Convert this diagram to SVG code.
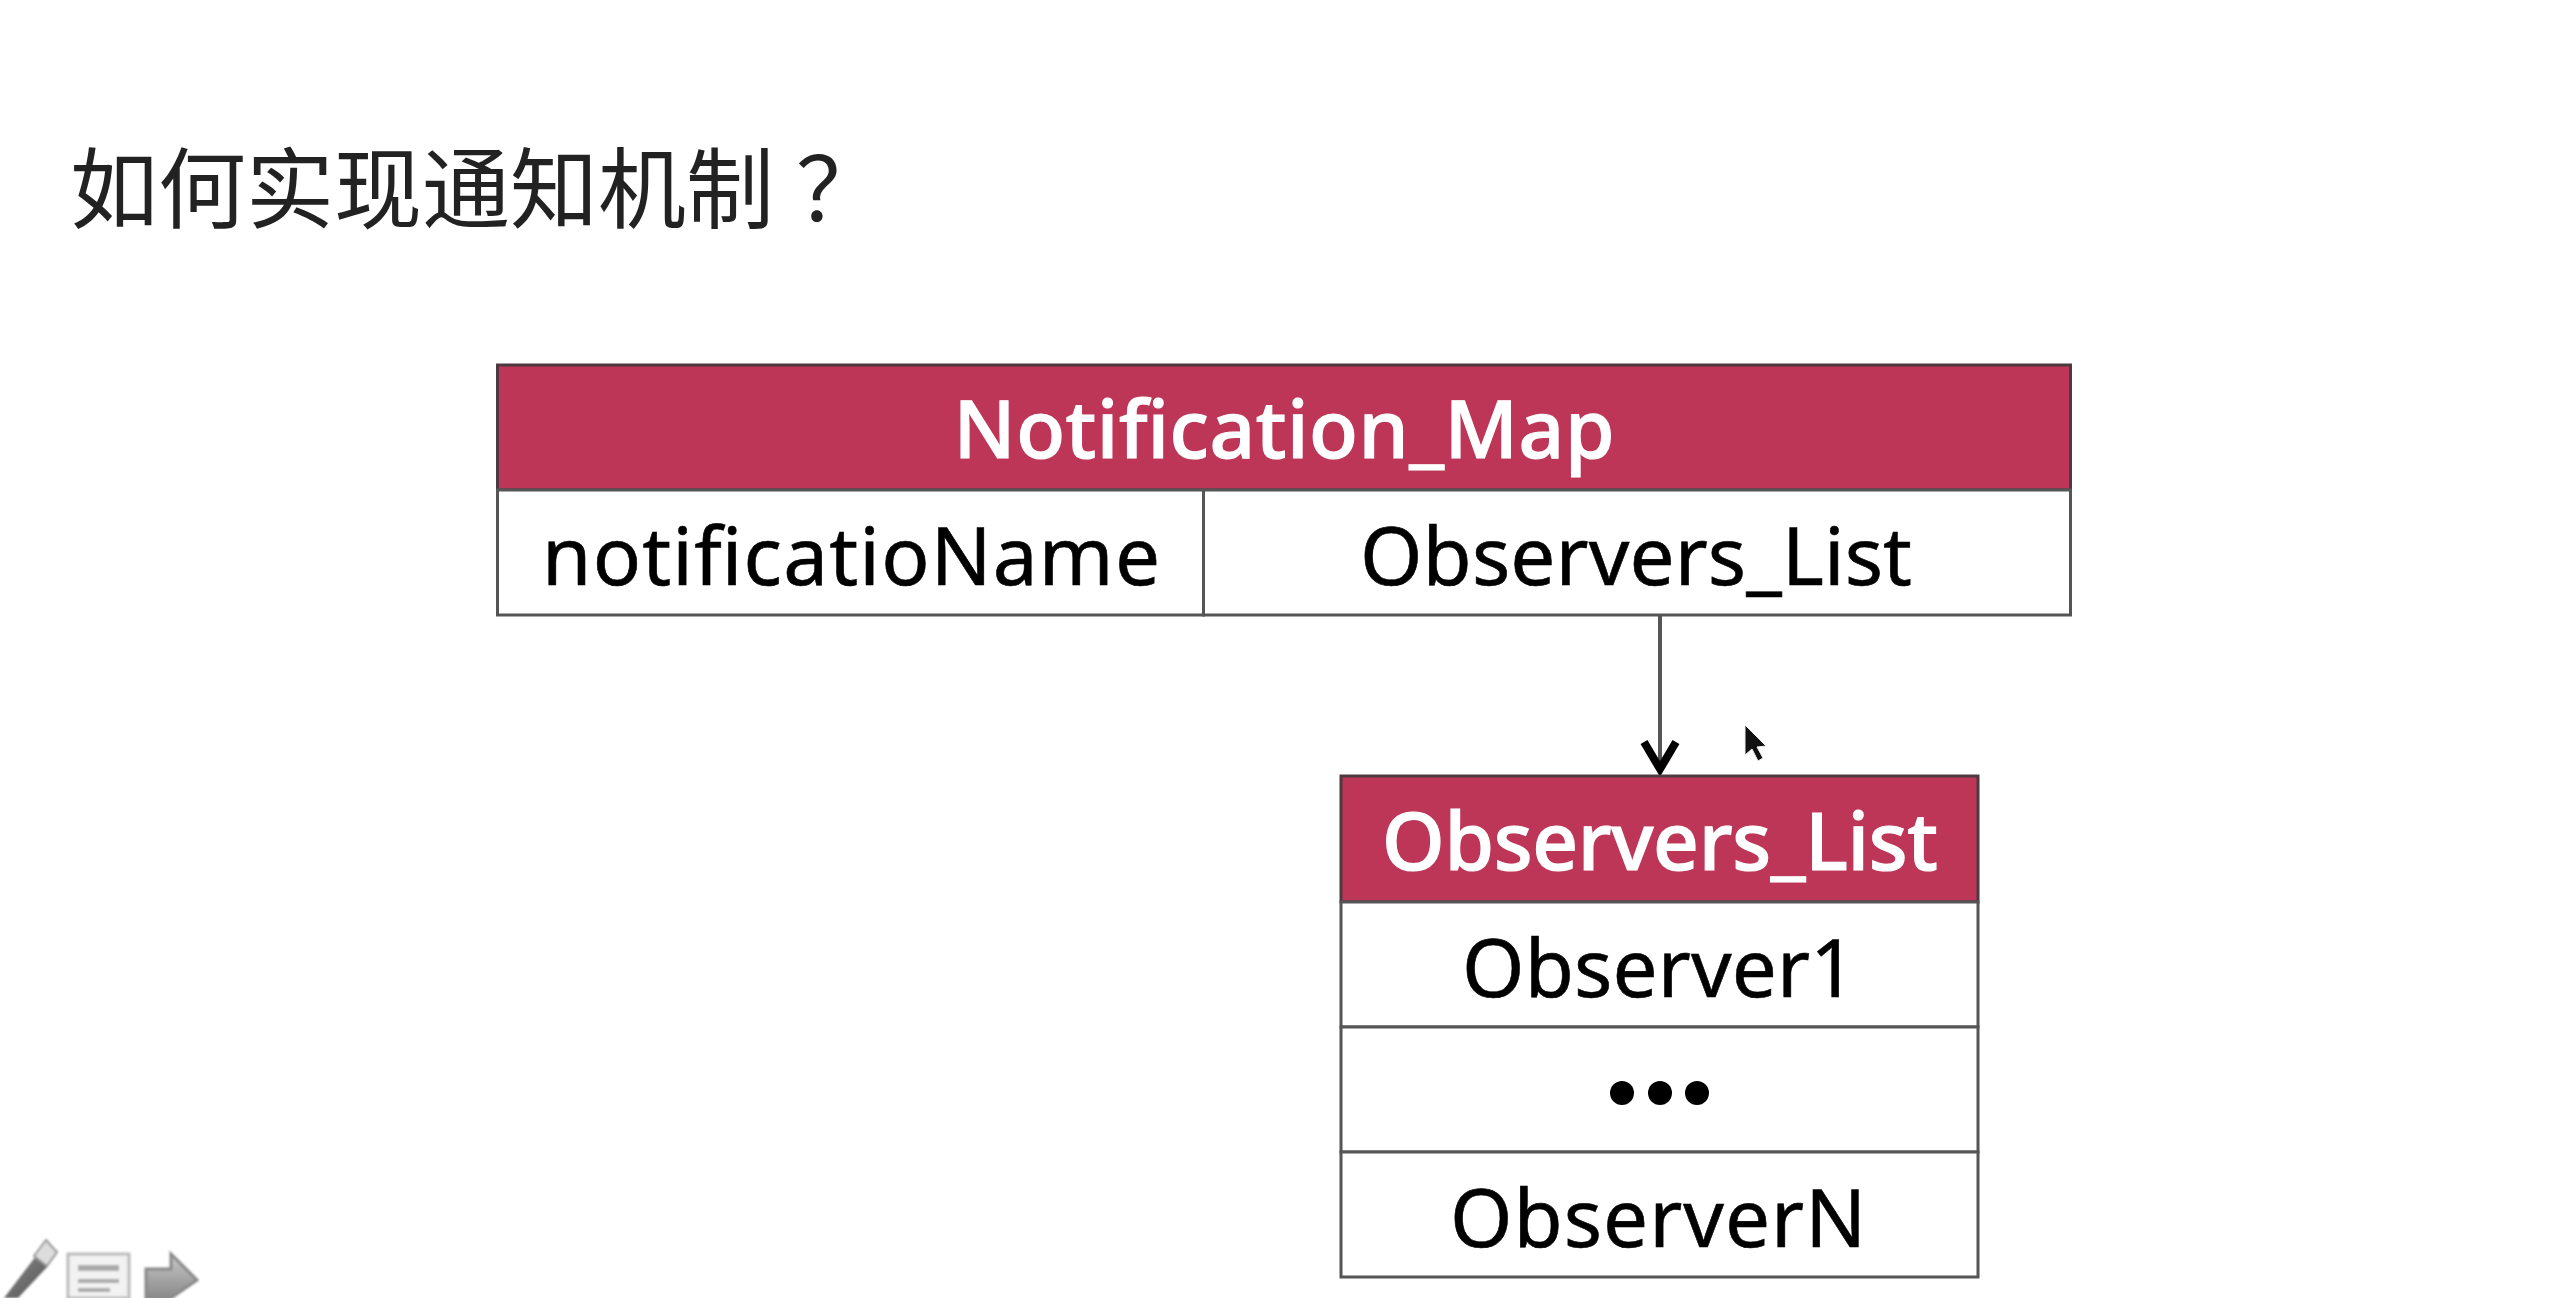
<svg xmlns="http://www.w3.org/2000/svg" width="2570" height="1298" viewBox="0 0 2570 1298">
<style>
.cell{fill:#fff;stroke:#555;stroke-width:3}
.head{fill:#bd3657;stroke:#4d3a40;stroke-width:3}
.t{font-family:"Noto Sans","Open Sans","Liberation Sans",sans-serif;font-size:80px;fill:#000;text-anchor:middle;stroke:#000;stroke-width:.6}
.h{fill:#fff;stroke:#fff;stroke-width:1.2;font-weight:500}
.conn{stroke:#555;stroke-width:4;fill:none}
</style>
<defs>
<linearGradient id="g" x1="0" y1="0" x2="0" y2="1"><stop offset="0" stop-color="#c8c8c8"/><stop offset="1" stop-color="#8a8a8a"/></linearGradient>
<linearGradient id="p" x1="0" y1="0" x2="1" y2="1"><stop offset="0" stop-color="#888"/><stop offset="1" stop-color="#555"/></linearGradient>
<filter id="b" x="-10%" y="-10%" width="120%" height="120%"><feGaussianBlur stdDeviation="0.9"/></filter>
<filter id="s" x="-5%" y="-20%" width="110%" height="140%"><feGaussianBlur stdDeviation="0.6"/></filter>
</defs>
<rect width="2570" height="1298" fill="#fff"/>
<text id="title" x="70" y="221" font-family="'Noto Sans CJK SC','Noto Sans',sans-serif" font-size="88" fill="#222" filter="url(#s)">如何实现通知机制<tspan dx="22">？</tspan></text>
<g id="notification_map">
<rect class="head" x="497.500" y="365" width="1573" height="125"/>
<rect class="cell" x="497.500" y="490" width="706" height="125"/>
<rect class="cell" x="1203.500" y="490" width="867" height="125"/>
<g filter="url(#s)">
<text class="t h" x="1284" y="458" textLength="661">Notification_Map</text>
<text class="t" x="851" y="585" textLength="618">notificatioName</text>
<text class="t" x="1636" y="585" textLength="552">Observers_List</text>
</g>
</g>
<g id="connectors">
<line class="conn" x1="1660" y1="615" x2="1660" y2="770"/>
<path d="M1644 742 L1660 769 L1676 742" fill="none" stroke="#000" stroke-width="8"/>
</g>
<g id="observers_list">
<rect class="head" x="1341" y="776" width="637" height="126"/>
<rect class="cell" x="1341" y="902" width="637" height="125"/>
<rect class="cell" x="1341" y="1027" width="637" height="125"/>
<rect class="cell" x="1341" y="1152" width="637" height="125"/>
<g filter="url(#s)">
<text class="t h" x="1660" y="870" textLength="556">Observers_List</text>
<text class="t" x="1659" y="997" textLength="394">Observer1</text>
<text class="t" x="1658" y="1247" textLength="416">ObserverN</text>
</g>
<g><circle cx="1622" cy="1093" r="12"/><circle cx="1660" cy="1093" r="12"/><circle cx="1697" cy="1093" r="12"/></g>
</g>
<path id="cursor" d="M1745 725 L1745 755 L1752 749 L1758 761 L1763 758 L1757 747 L1766 746 Z" fill="#111" stroke="#eee" stroke-width="1"/>
<g id="toolbar" filter="url(#b)">
<path d="M4 1298 L36 1256 L48 1266 L18 1298 Z" fill="url(#p)"/>
<path d="M34 1256 L46 1240 Q52 1247 57 1252 L47 1266 Z" fill="#ddd" stroke="#999" stroke-width="2"/>
<rect x="68" y="1254" width="61" height="44" fill="#f2f2f2" stroke="#bbb" stroke-width="3"/>
<rect x="78" y="1265" width="41" height="6" fill="#aaa"/>
<rect x="78" y="1279" width="41" height="4" fill="#aaa"/>
<rect x="78" y="1288" width="32" height="4" fill="#aaa"/>
<path d="M146 1269 H171 V1254 L197 1280 L171 1298 H146 Z" fill="url(#g)" stroke="#888" stroke-width="3"/>
</g>
</svg>
